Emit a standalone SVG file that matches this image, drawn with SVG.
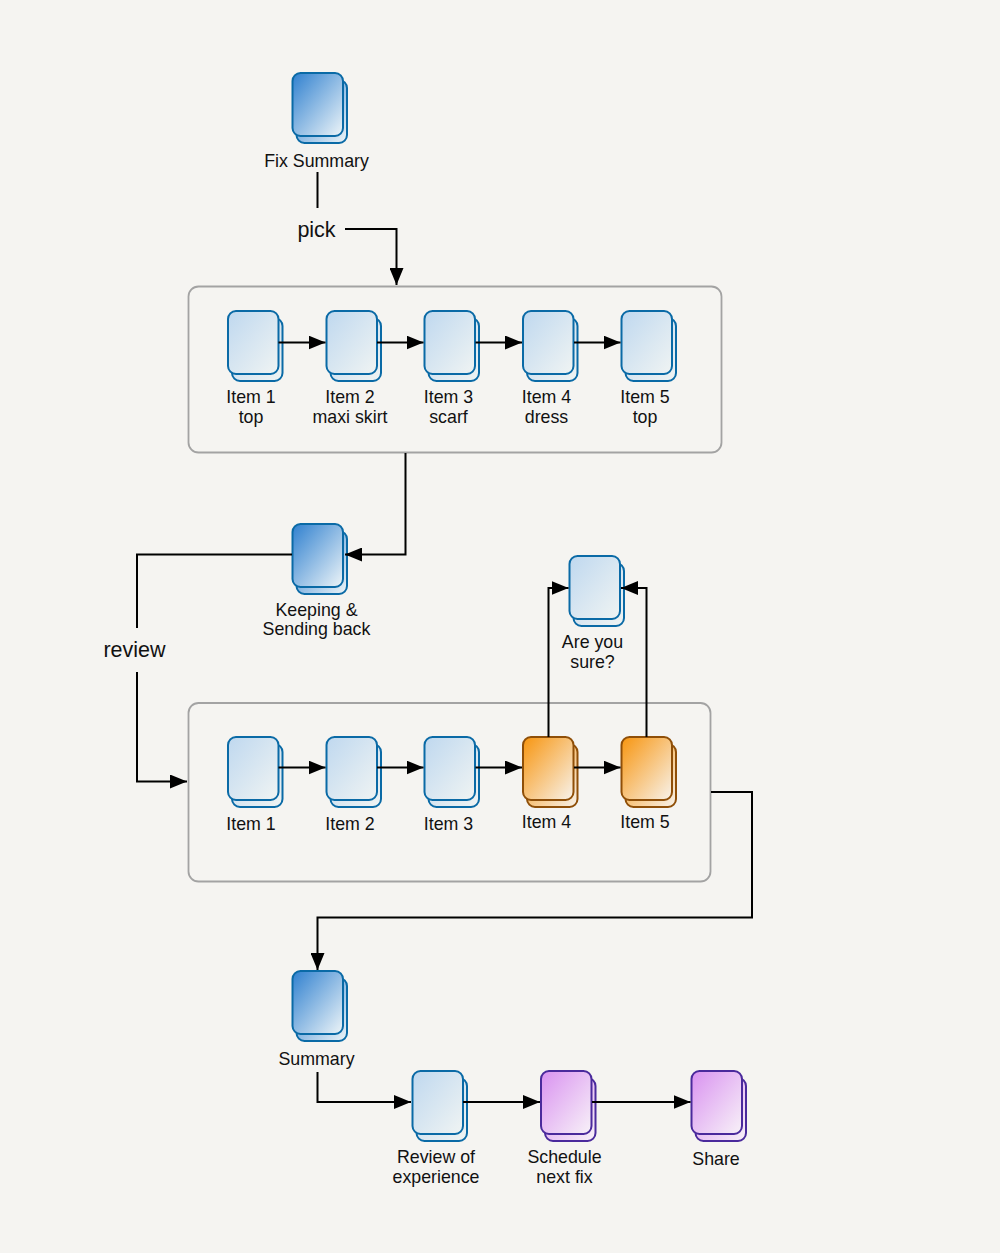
<svg xmlns="http://www.w3.org/2000/svg" xmlns:xlink="http://www.w3.org/1999/xlink" width="1000" height="1253" viewBox="0 0 1000 1253">
<style>
text{font-family:"Liberation Sans",Arial,sans-serif;font-size:17.800px;fill:#111;text-anchor:middle}
.big{font-size:21.500px}
.box{fill:#f5f4f1;stroke:#a3a3a3;stroke-width:1.800}
.c{fill:none;stroke:#000;stroke-width:2}
.s{stroke-width:2}
.b{stroke:#0a6aa6}.o{stroke:#8f4f08}.p{stroke:#4a2a9c}
</style>
<defs>
<linearGradient id="gd" x1="0" y1="0" x2="1" y2="1"><stop offset="0" stop-color="#2f80cf"/><stop offset="1" stop-color="#eef5f8"/></linearGradient>
<linearGradient id="gl" x1="0" y1="0" x2="1" y2="1"><stop offset="0" stop-color="#bfd8ef"/><stop offset="1" stop-color="#f0f4f3"/></linearGradient>
<linearGradient id="go" x1="0" y1="0" x2="1" y2="1"><stop offset="0" stop-color="#f7950f"/><stop offset="1" stop-color="#f8f3ec"/></linearGradient>
<linearGradient id="gp" x1="0" y1="0" x2="1" y2="1"><stop offset="0" stop-color="#d992f0"/><stop offset="1" stop-color="#f8f2f8"/></linearGradient>
<marker id="a" markerUnits="userSpaceOnUse" markerWidth="18" markerHeight="14" refX="17" refY="7" orient="auto"><path d="M0 0L17 7L0 14Z" fill="#000"/></marker>
<g id="nd" class="s b"><rect x="4" y="7" width="50.500" height="63" rx="8" fill="url(#gd)"/><rect width="50.500" height="63" rx="8" fill="url(#gd)"/></g>
<g id="nl" class="s b"><rect x="4" y="7" width="50.500" height="63" rx="8" fill="url(#gl)"/><rect width="50.500" height="63" rx="8" fill="url(#gl)"/></g>
<g id="no" class="s o"><rect x="4" y="7" width="50.500" height="63" rx="8" fill="url(#go)"/><rect width="50.500" height="63" rx="8" fill="url(#go)"/></g>
<g id="np" class="s p"><rect x="4" y="7" width="50.500" height="63" rx="8" fill="url(#gp)"/><rect width="50.500" height="63" rx="8" fill="url(#gp)"/></g>
</defs>
<rect width="1000" height="1253" fill="#f5f4f1"/>
<g id="containers">
<rect id="box1" class="box" x="188.500" y="286.500" width="533" height="166" rx="10"/>
<rect id="box2" class="box" x="188.500" y="703" width="522" height="178.500" rx="10"/>
</g>
<g id="n-fix"><use href="#nd" x="292.500" y="73"/><text x="316.500" y="166.500">Fix Summary</text></g>
<g id="n1-1"><use href="#nl" x="228" y="311"/><text x="251" y="403">Item 1</text><text x="251" y="423">top</text></g>
<g id="n1-2"><use href="#nl" x="326.500" y="311"/><text x="350" y="403">Item 2</text><text x="350" y="423">maxi skirt</text></g>
<g id="n1-3"><use href="#nl" x="424.500" y="311"/><text x="448.500" y="403">Item 3</text><text x="448.500" y="423">scarf</text></g>
<g id="n1-4"><use href="#nl" x="523" y="311"/><text x="546.500" y="403">Item 4</text><text x="546.500" y="423">dress</text></g>
<g id="n1-5"><use href="#nl" x="621.500" y="311"/><text x="645" y="403">Item 5</text><text x="645" y="423">top</text></g>
<g id="n-keep"><use href="#nd" x="292.500" y="524"/><text x="316.500" y="615.500">Keeping &amp;</text><text x="316.500" y="635">Sending back</text></g>
<g id="n-sure"><use href="#nl" x="569.500" y="556"/><text x="592.500" y="648">Are you</text><text x="592.500" y="668">sure?</text></g>
<g id="n2-1"><use href="#nl" x="228" y="737"/><text x="251" y="829.500">Item 1</text></g>
<g id="n2-2"><use href="#nl" x="326.500" y="737"/><text x="350" y="829.500">Item 2</text></g>
<g id="n2-3"><use href="#nl" x="424.500" y="737"/><text x="448.500" y="829.500">Item 3</text></g>
<g id="n2-4"><use href="#no" x="523" y="737"/><text x="546.500" y="827.500">Item 4</text></g>
<g id="n2-5"><use href="#no" x="621.500" y="737"/><text x="645" y="827.500">Item 5</text></g>
<g id="n-summary"><use href="#nd" x="292.500" y="971"/><text x="316.500" y="1065">Summary</text></g>
<g id="n-review"><use href="#nl" x="412.500" y="1071"/><text x="436" y="1163">Review of</text><text x="436" y="1183">experience</text></g>
<g id="n-schedule"><use href="#np" x="541" y="1071"/><text x="564.500" y="1163">Schedule</text><text x="564.500" y="1183">next fix</text></g>
<g id="n-share"><use href="#np" x="691.500" y="1071"/><text x="716" y="1165">Share</text></g>
<g id="connectors">
<path class="c" d="M317.500 172V208"/>
<path class="c" marker-end="url(#a)" d="M345 229H396.500V285"/>
<path class="c" marker-end="url(#a)" d="M278.500 342.500H325.500"/>
<path class="c" marker-end="url(#a)" d="M377 342.500H423.500"/>
<path class="c" marker-end="url(#a)" d="M475.500 342.500H522"/>
<path class="c" marker-end="url(#a)" d="M574 342.500H620.500"/>
<path class="c" marker-end="url(#a)" d="M405.500 453V554.500H345"/>
<path class="c" d="M292 554.500H137V628"/>
<path class="c" marker-end="url(#a)" d="M137 672V781.500H187"/>
<path class="c" marker-end="url(#a)" d="M278.500 767.500H325.500"/>
<path class="c" marker-end="url(#a)" d="M377 767.500H423.500"/>
<path class="c" marker-end="url(#a)" d="M475.500 767.500H522"/>
<path class="c" marker-end="url(#a)" d="M574 767.500H620.500"/>
<path class="c" marker-end="url(#a)" d="M548.500 737V588H568.500"/>
<path class="c" marker-end="url(#a)" d="M646.500 737V588H621"/>
<path class="c" marker-end="url(#a)" d="M711 792H752V917.500H317.500V970"/>
<path class="c" marker-end="url(#a)" d="M317.500 1072V1102H411"/>
<path class="c" marker-end="url(#a)" d="M463 1102H540"/>
<path class="c" marker-end="url(#a)" d="M592 1102H690.500"/>
</g>
<text class="big" x="316.500" y="236.500">pick</text>
<text class="big" x="134.500" y="657">review</text>
</svg>
